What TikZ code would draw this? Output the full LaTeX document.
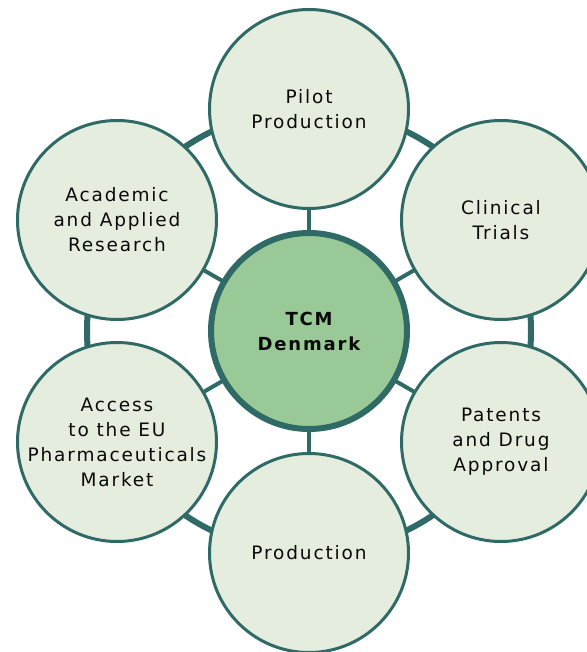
\documentclass[tikz,border=0pt]{standalone}
\usepackage{fontspec}
\setmainfont{DejaVu Sans}[LetterSpace=10]
\usetikzlibrary{backgrounds}
\definecolor{edge}{RGB}{47,106,103}
\definecolor{outerfill}{RGB}{229,237,222}
\definecolor{hubfill}{RGB}{152,201,150}
\definecolor{txt}{RGB}{10,10,10}
\begin{document}
\begin{tikzpicture}[x=1pt,y=-1pt,
 petal/.style={circle, draw=edge, line width=3pt, fill=outerfill, minimum size=199pt, inner sep=0pt, align=center, text=txt, font=\fontsize{18.5}{25}\selectfont},
 hub/.style={circle, draw=edge, line width=6pt, fill=hubfill, minimum size=196pt, inner sep=0pt, align=center, text=txt, font=\bfseries\fontsize{18}{25}\selectfont},
 spoke/.style={draw=edge, line width=4pt},
 ring/.style={draw=edge, line width=6pt}]
\useasboundingbox (0,0) rectangle (586,652);
\node[hub] (hub) at (309,331) {TCM\\Denmark};
\node[petal] (pilot) at (309,109) {Pilot\\Production};
\node[petal] (clin) at (501,220) {Clinical\\Trials};
\node[petal] (pat) at (501,442) {Patents\\and Drug\\Approval};
\node[petal] (prod) at (309,553) {Production};
\node[petal] (eu) at (117,442) {Access\\to the EU\\Pharmaceuticals\\Market};
\node[petal] (acad) at (117,220) {Academic\\and Applied\\Research};
\begin{scope}[on background layer]
\draw[ring] (hub.center) circle[radius=222pt];
\foreach \n in {pilot,clin,pat,prod,eu,acad} \draw[spoke] (hub.center) -- (\n.center);
\end{scope}
\end{tikzpicture}
\end{document}
